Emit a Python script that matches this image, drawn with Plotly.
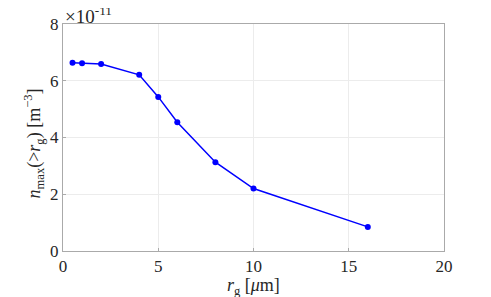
import plotly.graph_objects as go

# grain radius [um] and max number density above r_g [m^-3]
r_g = [0.5, 1, 2, 4, 5, 6, 8, 10, 16]
n_max = [6.63e-11, 6.62e-11, 6.59e-11, 6.21e-11, 5.43e-11, 4.54e-11, 3.13e-11, 2.20e-11, 0.85e-11]

y_ticks = [0, 2e-11, 4e-11, 6e-11, 8e-11]
y_ticklabels = ["0", "2", "4", "6", "8"]
x_ticks = [0, 5, 10, 15, 20]

font = "Liberation Serif"
txt = "#262626"

fig = go.Figure()
fig.add_trace(go.Scatter(
    x=r_g, y=n_max,
    mode="lines+markers",
    line=dict(color="#0000ff", width=1.5),
    marker=dict(color="#0000ff", size=6),
    showlegend=False,
))

axis_style = dict(
    showline=True, linecolor="#aaaaaa", linewidth=1, mirror=True,
    showgrid=True, gridcolor="#ececec", gridwidth=1,
    zeroline=False, ticks="inside", ticklen=3, tickcolor="#aaaaaa",
    tickfont=dict(family=font, size=17, color=txt), automargin=False,
)

fig.update_xaxes(range=[0, 20], tickvals=x_ticks, **axis_style)
fig.update_yaxes(range=[0, 8e-11], tickvals=y_ticks, ticktext=y_ticklabels, **axis_style)

# axis labels as annotations so they can be placed freely
fig.add_annotation(
    x=0.5, y=0, xref="paper", yref="paper", xanchor="center", yanchor="top",
    yshift=-22, showarrow=False,
    text="<i>r</i><sub>g</sub> [<i>μ</i>m]",
    font=dict(family=font, size=18, color=txt),
)
fig.add_annotation(
    x=0, y=0.5, xref="paper", yref="paper", xanchor="center", yanchor="middle",
    xshift=-29, yshift=-6, textangle=-90, showarrow=False,
    text="<i>n</i><sub>max</sub>(><i>r</i><sub>g</sub>) [m<sup>−3</sup>]",
    font=dict(family=font, size=18, color=txt),
)

fig.add_annotation(
    x=0, y=1, xref="paper", yref="paper", xanchor="left", yanchor="bottom",
    text="×10<sup>-11</sup>", showarrow=False, yshift=-5,
    font=dict(family=font, size=19, color=txt),
)

fig.update_layout(
    width=491, height=297,
    margin=dict(l=55, r=55, t=16, b=54),
    paper_bgcolor="white", plot_bgcolor="white",
    font=dict(family=font),
)

fig.write_html("out.html")
